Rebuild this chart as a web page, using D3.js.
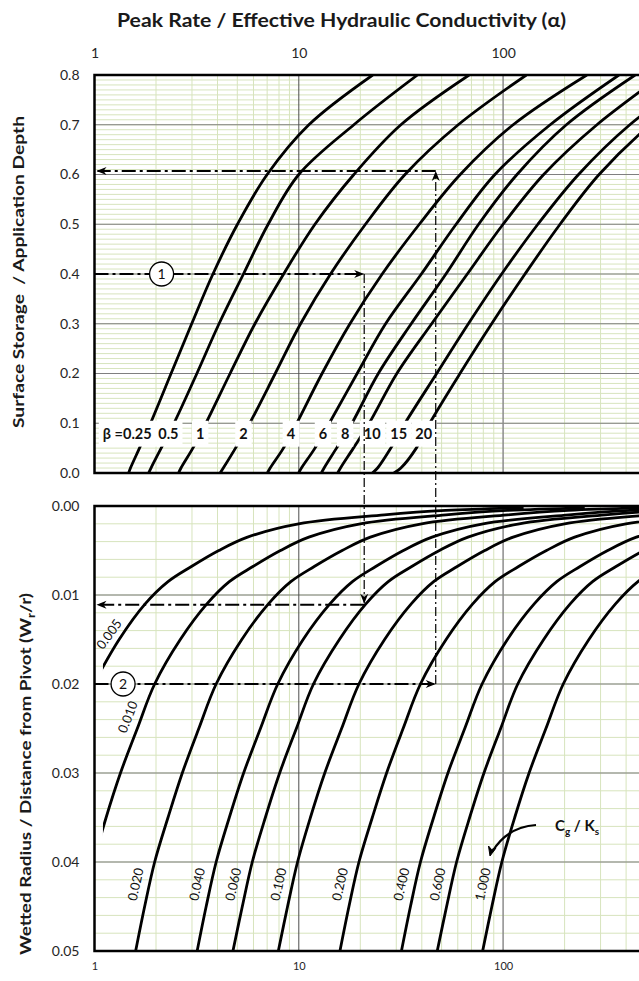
<!DOCTYPE html>
<html>
<head>
<meta charset="utf-8">
<script src="https://cdn.jsdelivr.net/npm/d3@7"></script>
<style>
  body { margin: 0; background: #fff; }
  svg text { font-family: Lato, "Open Sans", sans-serif; }
</style>
</head>
<body>
<svg id="chart" width="639" height="981"></svg>
<script>

// upper panel: storage/depth levels, and the alpha where each beta curve crosses them
var storageLevels = [0, 0.01, 0.05, 0.1, 0.2, 0.3, 0.4, 0.5, 0.6, 0.7, 0.8]
var betaNames = ["0.25", "0.5", "1", "2", "4", "6", "8", "10", "15", "20"]
var betaAlpha = [
  [1.47, 1.50, 1.66, 1.88, 2.37, 2.99, 3.80, 5.01, 7.00, 11.2, 23.0],
  [1.84, 1.89, 2.12, 2.45, 3.17, 4.07, 5.36, 7.08, 10.0, 18.6, 38.1],
  [2.58, 2.65, 3.03, 3.51, 4.61, 6.10, 8.43, 12.0, 18.6, 31.6, 68.2],
  [4.12, 4.27, 4.90, 5.75, 7.67, 10.2, 14.3, 21.2, 33.1, 60.3, 130],
  [7.02, 7.24, 8.41, 9.77, 13.0, 17.8, 25.6, 38.9, 61.7, 112, 257],
  [9.98, 10.3, 12.0, 14.1, 19.3, 26.6, 39.8, 58.9, 91.2, 170, 369],
  [12.9, 13.3, 15.3, 18.2, 24.5, 35.5, 52.5, 75.9, 117, 204, 443],
  [15.5, 16.0, 18.5, 22.1, 30.2, 44.7, 66.8, 100, 158, 288, 603],
  [22.9, 24.3, 28.2, 33.1, 47.3, 67.6, 98.4, 148, 234, 417, 891],
  [29.2, 31.6, 37.6, 43.7, 61.5, 87.9, 128, 190, 295, 525, 1122]
]

// lower panel: Wr/r levels, and the alpha where each Cg/Ks curve crosses them
var wettedLevels = [0.0002, 0.0005, 0.001, 0.002, 0.0035, 0.005, 0.0068, 0.0085, 0.011, 0.015, 0.02, 0.025, 0.03, 0.035, 0.04, 0.045, 0.05]
var cgNames = ["0.005", "0.010", "0.020", "0.040", "0.060", "0.100", "0.200", "0.400", "0.600", "1.000"]
var cgAlpha = [
  [126, 52.4, 26.2, 9.98, 5.61, 4.06, 2.98, 2.29, 1.77, 1.32, 0.99, null, null, null, null, null, null],
  [251, 105, 52.5, 20.0, 11.2, 8.13, 5.96, 4.57, 3.55, 2.63, 1.97, 1.62, 1.34, 1.14, 0.99, null, null],
  [502, 209, 105, 39.9, 22.4, 16.3, 11.9, 9.14, 7.10, 5.26, 3.94, 3.24, 2.69, 2.29, 1.97, 1.76, 1.59],
  [1005, 419, 210, 79.8, 44.9, 32.5, 23.8, 18.3, 14.2, 10.5, 7.89, 6.49, 5.37, 4.57, 3.94, 3.52, 3.18],
  [1507, 628, 315, 120, 67.3, 48.8, 35.7, 27.4, 21.3, 15.8, 11.8, 9.73, 8.06, 6.86, 5.92, 5.29, 4.76],
  [2512, 1047, 525, 200, 112, 81.3, 59.6, 45.7, 35.5, 26.3, 19.7, 16.2, 13.4, 11.4, 9.86, 8.81, 7.94],
  [5024, 2094, 1050, 399, 224, 163, 119, 91.4, 71.0, 52.6, 39.4, 32.4, 26.9, 22.9, 19.7, 17.6, 15.9],
  [10048, 4188, 2099, 798, 449, 325, 238, 183, 142, 105, 78.9, 64.9, 53.7, 45.7, 39.4, 35.2, 31.8],
  [15071, 6283, 3149, 1197, 673, 488, 357, 274, 213, 158, 118, 97.3, 80.6, 68.6, 59.2, 52.9, 47.6],
  [25119, 10471, 5248, 1995, 1122, 813, 596, 457, 355, 263, 197, 162, 134, 114, 98.6, 88.1, 79.4]
]

// worked examples drawn as dash-dot guides: [storage, alpha, Wr/r]
var example1 = [0.4, 20.9, 0.0111]
var example2 = [0.607, 46.8, 0.02]

var xTicks = [1, 10, 100]

//////// Scales
var svg = d3.select("#chart")
var x = d3.scaleLog().domain([1, 1000]).range([94.5, 707.4])
var yTop = d3.scaleLinear().domain([0, 0.8]).range([473, 75])
var yBot = d3.scaleLinear().domain([0, 0.05]).range([506, 951])

var defs = svg.append("defs")
defs.append("clipPath").attr("id", "clipTop").append("rect")
  .attr("x", x(1)).attr("y", yTop(0.8)).attr("width", x(1000) - x(1)).attr("height", yTop(0) - yTop(0.8))
defs.append("clipPath").attr("id", "clipBot").append("rect")
  .attr("x", x(1.1)).attr("y", yBot(0)).attr("width", x(1000) - x(1.1)).attr("height", yBot(0.05) - yBot(0))

var minorGreen = "#d7e4bd"

//////// Grids
function drawGrid(yS, top, bottom, minorStep, majorStep) {
  var g = svg.append("g")
  var minorX = []
  xTicks.forEach(function (d) { for (var k = 2; k <= 9; k++) minorX.push(k * d) })
  var nMinor = Math.round((bottom - top) / minorStep)
  var minorY = d3.range(1, nMinor).map(function (i) { return top + i * minorStep })
  var nMajor = Math.round((bottom - top) / majorStep)
  var majorY = d3.range(1, nMajor).map(function (i) { return top + i * majorStep })

  g.selectAll(".vx").data(minorX).join("line")
    .attr("x1", d => x(d)).attr("x2", d => x(d))
    .attr("y1", yS(top)).attr("y2", yS(bottom))
    .attr("stroke", minorGreen).attr("stroke-width", 1)
  g.selectAll(".hy").data(minorY).join("line")
    .attr("x1", x(1)).attr("x2", x(1000))
    .attr("y1", d => yS(d)).attr("y2", d => yS(d))
    .attr("stroke", minorGreen).attr("stroke-width", 1)
  g.selectAll(".hm").data(majorY).join("line")
    .attr("x1", x(1)).attr("x2", x(1000))
    .attr("y1", d => yS(d)).attr("y2", d => yS(d))
    .attr("stroke", "#7f7f7f").attr("stroke-width", 1.2)
  g.selectAll(".vm").data([10, 100]).join("line")
    .attr("x1", d => x(d)).attr("x2", d => x(d))
    .attr("y1", yS(top)).attr("y2", yS(bottom))
    .attr("stroke", d => d === 10 ? "#4d4d4d" : "#8c8c8c")
    .attr("stroke-width", d => d === 10 ? 1 : 1.5)
}
drawGrid(yTop, 0, 0.8, 0.01, 0.1)
drawGrid(yBot, 0, 0.05, 0.002, 0.01)

//////// Curves
var lineTop = d3.line()
  .x(d => x(d[0])).y(d => yTop(d[1]))
  .curve(d3.curveCatmullRom.alpha(0.5))
var lineBot = d3.line()
  .defined(d => d[0] != null)
  .x(d => x(d[0])).y(d => yBot(d[1]))
  .curve(d3.curveCatmullRom.alpha(0.5))

var betaSeries = betaAlpha.map(row => row.map((a, j) => [a, storageLevels[j]]))
var cgSeries = cgAlpha.map(row => row.map((a, j) => [a, wettedLevels[j]]))

svg.append("g").attr("clip-path", "url(#clipTop)")
  .selectAll("path").data(betaSeries).join("path")
  .attr("d", lineTop).attr("fill", "none")
  .attr("stroke", "#000").attr("stroke-width", 2.8)

svg.append("g").attr("clip-path", "url(#clipBot)")
  .selectAll("path").data(cgSeries).join("path")
  .attr("d", lineBot).attr("fill", "none")
  .attr("stroke", "#000").attr("stroke-width", 2.8)

// alpha on a curve at a given level (linear in log alpha)
function alphaAt(series, level) {
  var pts = series.filter(d => d[0] != null)
  for (var i = 1; i < pts.length; i++) {
    var a = pts[i - 1], b = pts[i]
    if ((level - a[1]) * (level - b[1]) <= 0) {
      var t = (level - a[1]) / (b[1] - a[1])
      return Math.pow(10, Math.log10(a[0]) + t * (Math.log10(b[0]) - Math.log10(a[0])))
    }
  }
  return pts[pts.length - 1][0]
}

//////// Beta labels on white boxes
var betaLabelLevel = 0.078
var betaG = svg.append("g")
betaNames.forEach(function (b, i) {
  var ax = x(alphaAt(betaSeries[i], betaLabelLevel))
  var t = betaG.append("text")
    .attr("y", yTop(betaLabelLevel))
    .attr("dy", "0.35em")
    .style("font-size", "14.5px").style("font-weight", "700").attr("fill", "#111")
  if (i === 0) {
    t.attr("x", ax + 6).attr("text-anchor", "end").text("\u03b2 =0.25")
  } else {
    t.attr("x", ax + (b === "10" ? 10 : 0)).attr("text-anchor", "middle").text(b)
  }
  var bb = t.node().getBBox()
  betaG.insert("rect", "text")
    .attr("x", bb.x - 4).attr("width", bb.width + 8)
    .attr("y", yTop(0.105)).attr("height", yTop(0.053) - yTop(0.105))
    .attr("fill", "#fff")
})

//////// Cg/Ks labels along the curves
var cgLabelLevel = [0.0144, 0.0237, 0.0425, 0.0425, 0.0425, 0.0425, 0.0425, 0.0425, 0.0425, 0.0425]
cgNames.forEach(function (c, i) {
  var lv = cgLabelLevel[i]
  var a1 = alphaAt(cgSeries[i], lv), a2 = alphaAt(cgSeries[i], lv - 0.001)
  var px = x(a1), py = yBot(lv)
  var ang = Math.atan2(yBot(lv - 0.001) - py, x(a2) - px) * 180 / Math.PI
  svg.append("text")
    .attr("transform", "translate(" + (px - 14) + "," + py + ") rotate(" + ang + ")")
    .attr("text-anchor", "middle").attr("dy", "0.35em")
    .style("font-size", "13px").attr("fill", "#111")
    .text(c)
})

//////// Panel frames
;[[yTop, 0, 0.8], [yBot, 0, 0.05]].forEach(function (p) {
  svg.append("rect")
    .attr("x", x(1)).attr("y", Math.min(p[0](p[1]), p[0](p[2])))
    .attr("width", x(1000) - x(1))
    .attr("height", Math.abs(p[0](p[2]) - p[0](p[1])))
    .attr("fill", "none").attr("stroke", "#000").attr("stroke-width", 2.5)
})

//////// Worked example guides
var guides = svg.append("g").attr("fill", "none").attr("stroke", "#000")
function hLine(y1, xa, xb) {
  guides.append("line").attr("x1", xa).attr("x2", xb).attr("y1", y1).attr("y2", y1)
    .attr("stroke-width", 2).attr("stroke-dasharray", "14,4,3,4")
}
function vLine(x1, ya, yb) {
  guides.append("line").attr("x1", x1).attr("x2", x1).attr("y1", ya).attr("y2", yb)
    .attr("stroke-width", 1.2).attr("stroke-dasharray", "9,3,2,3")
}
function head(tx, ty, dir) {
  // dir: "r","l","u","d" ; slim stealth arrowhead
  var L = 10, w = 4, n = 3
  var pts
  if (dir === "r") pts = [[tx, ty], [tx - L, ty - w], [tx - L + n, ty], [tx - L, ty + w]]
  if (dir === "l") pts = [[tx, ty], [tx + L, ty - w], [tx + L - n, ty], [tx + L, ty + w]]
  if (dir === "u") pts = [[tx, ty], [tx - w, ty + L], [tx, ty + L - n], [tx + w, ty + L]]
  if (dir === "d") pts = [[tx, ty], [tx - w, ty - L], [tx, ty - L + n], [tx + w, ty - L]]
  svg.append("path").attr("d", "M" + pts.join("L") + "Z").attr("fill", "#000")
}
function circleLabel(cx, cy, t) {
  svg.append("circle").attr("cx", cx).attr("cy", cy).attr("r", 12)
    .attr("fill", "#fff").attr("stroke", "#000").attr("stroke-width", 1.3)
  svg.append("text").attr("x", cx).attr("y", cy).attr("dy", "0.36em")
    .attr("text-anchor", "middle").style("font-size", "14px").attr("fill", "#111").text(t)
}

// example 1: storage -> alpha -> Wr/r
var e1x = x(example1[1]), e1yt = yTop(example1[0]), e1yb = yBot(example1[2])
hLine(e1yt, x(1), e1x - 2)
vLine(e1x, e1yt, e1yb - 2)
hLine(e1yb, e1x, x(1) + 3)
head(e1x, e1yt, "r")
head(e1x, e1yb - 1, "d")
head(x(1) + 2, e1yb, "l")
circleLabel(x(2.13), e1yt, "1")

// example 2: Wr/r -> alpha -> storage
var e2x = x(example2[1]), e2yt = yTop(example2[0]), e2yb = yBot(example2[2])
hLine(e2yb, x(1), e2x - 2)
vLine(e2x, e2yb, e2yt + 2)
hLine(e2yt, e2x, x(1) + 3)
head(e2x, e2yb, "r")
head(e2x, e2yt, "u")
head(x(1) + 2, e2yt, "l")
circleLabel(x(1.38), e2yb, "2")

//////// Cg/Ks note with curved pointer
var note = svg.append("text").attr("x", 555).attr("y", 831)
  .style("font-size", "15px").style("font-weight", "700").attr("fill", "#111")
note.append("tspan").text("C")
note.append("tspan").attr("dy", 4).style("font-size", "10px").text("g")
note.append("tspan").attr("dy", -4).text(" / K")
note.append("tspan").attr("dy", 4).style("font-size", "10px").text("s")
svg.append("path").attr("d", "M536,825 Q507,827 492,852")
  .attr("fill", "none").attr("stroke", "#000").attr("stroke-width", 2.2)
svg.append("path").attr("d", "M490,856 L488.5,846 L491.5,849.5 L496,848 Z")
  .attr("fill", "#000").attr("stroke", "#000").attr("stroke-width", 1)

//////// Axes
function styleAxis(g, size) {
  g.select(".domain").remove()
  g.selectAll("text").style("font-size", size).attr("fill", "#262626")
    .style("font-family", "Lato, 'Open Sans', sans-serif")
}
svg.append("g").attr("transform", "translate(0,62)")
  .call(d3.axisTop(x).tickValues(xTicks).tickFormat(d3.format("d")).tickSize(0).tickPadding(4))
  .call(g => styleAxis(g, "14px"))
svg.append("g").attr("transform", "translate(0," + yBot(0.05) + ")")
  .call(d3.axisBottom(x).tickValues(xTicks).tickFormat(d3.format("d")).tickSize(0).tickPadding(11))
  .call(g => styleAxis(g, "11px"))
svg.append("g").attr("transform", "translate(" + x(1) + ",0)")
  .call(d3.axisLeft(yTop).tickValues(d3.range(0, 9).map(i => i / 10)).tickFormat(d3.format(".1f")).tickSize(0).tickPadding(15))
  .call(g => styleAxis(g, "14px"))
svg.append("g").attr("transform", "translate(" + x(1) + ",0)")
  .call(d3.axisLeft(yBot).tickValues(d3.range(0, 6).map(i => i / 100)).tickFormat(d3.format(".2f")).tickSize(0).tickPadding(15))
  .call(g => styleAxis(g, "14px"))

//////// Titles
svg.append("text").attr("x", 341.5).attr("y", 27).attr("text-anchor", "middle")
  .attr("textLength", 449).attr("lengthAdjust", "spacingAndGlyphs")
  .style("font-size", "19px").style("font-weight", "700").attr("fill", "#1a1a1a")
  .text("Peak Rate / Effective Hydraulic Conductivity (\u03b1)")
svg.append("text").attr("transform", "translate(24,272) rotate(-90)")
  .attr("text-anchor", "middle").style("white-space", "pre")
  .attr("textLength", 312).attr("lengthAdjust", "spacingAndGlyphs")
  .style("font-size", "16px").style("font-weight", "700").attr("fill", "#1a1a1a")
  .text("Surface Storage  / Application Depth")
var yt = svg.append("text").attr("transform", "translate(31,774) rotate(-90)")
  .attr("text-anchor", "middle")
  .attr("textLength", 362).attr("lengthAdjust", "spacingAndGlyphs")
  .style("font-size", "16px").style("font-weight", "700").attr("fill", "#1a1a1a")
yt.append("tspan").text("Wetted Radius / Distance from Pivot (W")
yt.append("tspan").attr("dy", 4).style("font-size", "11px").text("r")
yt.append("tspan").attr("dy", -4).text("/r)")
</script>
</body>
</html>
